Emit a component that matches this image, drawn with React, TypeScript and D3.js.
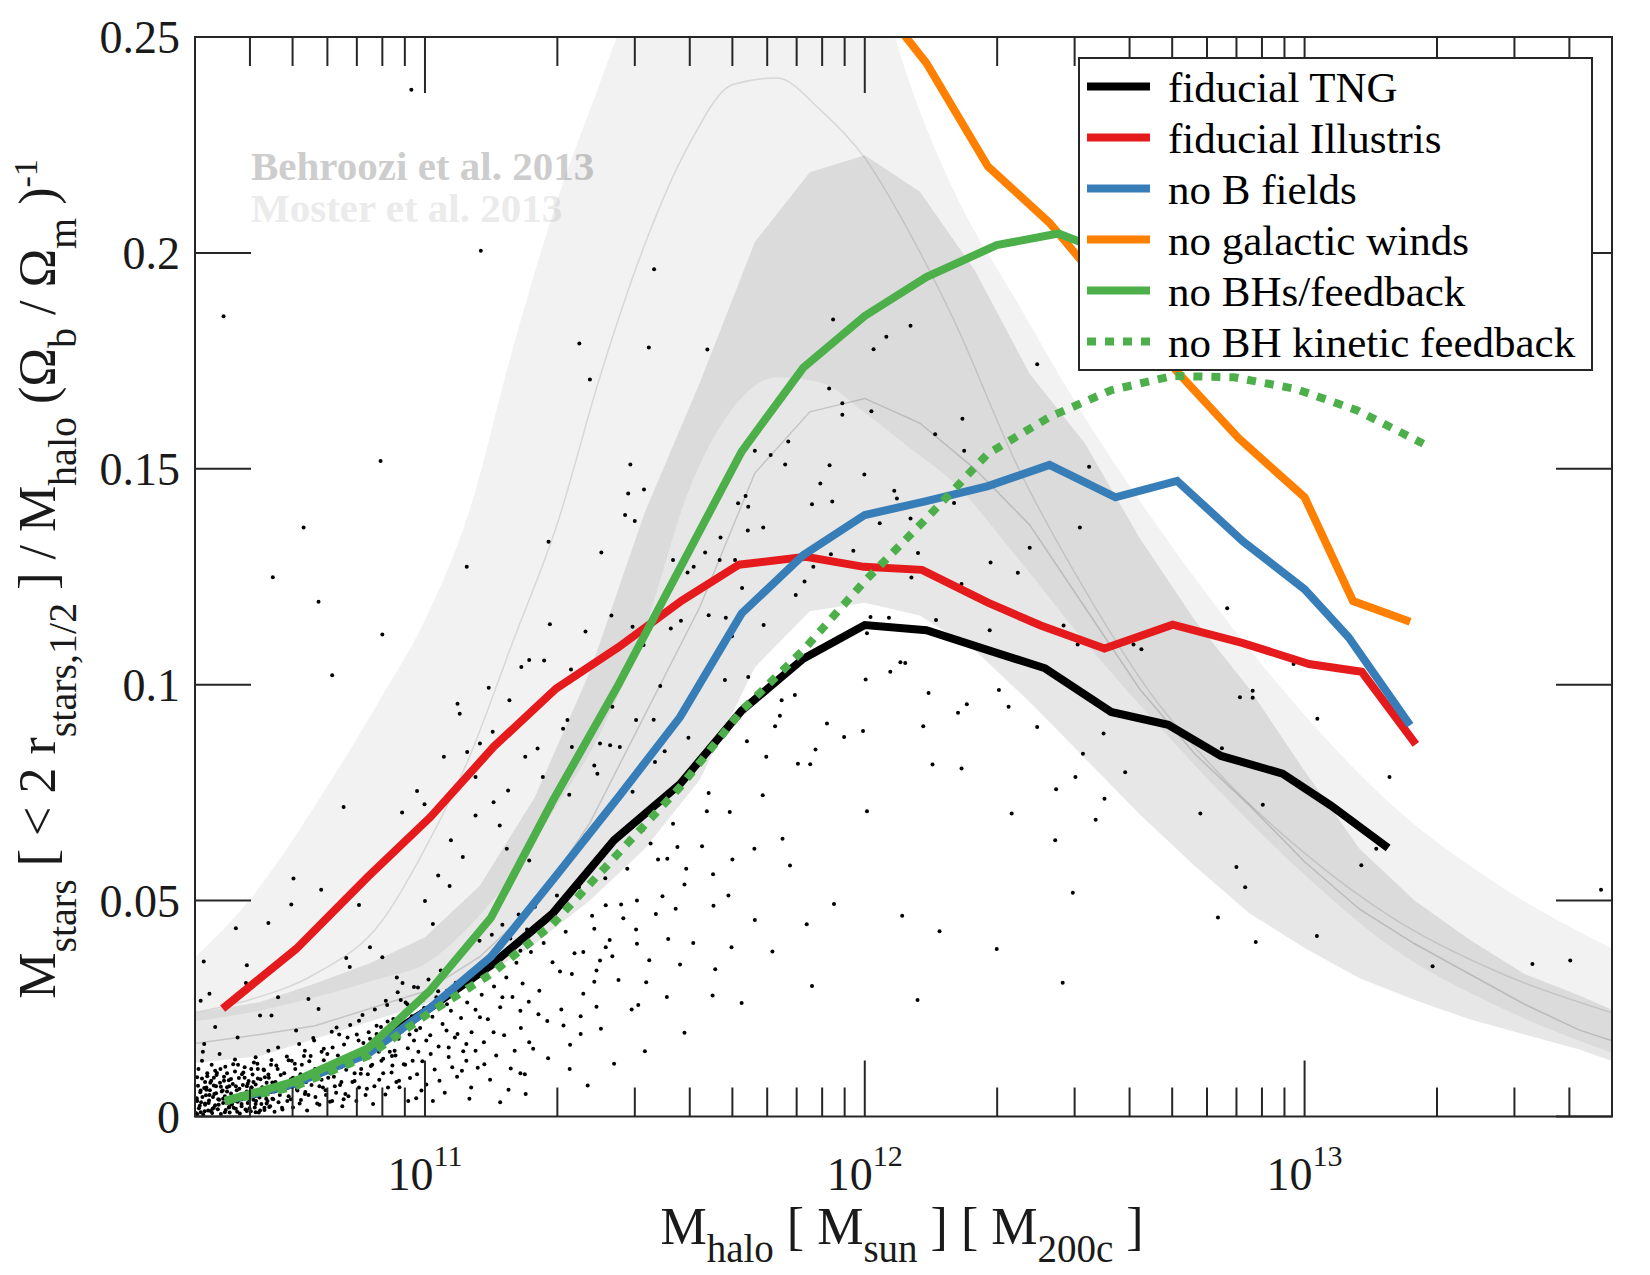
import * as d3 from "d3";

// simulation curves: [log10 M_halo, M_stars / M_halo / (Omega_b/Omega_m)]
const fiducialTNG: [number, number][] = [
  [10.545, 0.0035], [10.7, 0.0075], [10.86, 0.015], [11.01, 0.025], [11.15, 0.035],
  [11.29, 0.047], [11.43, 0.064], [11.58, 0.077], [11.72, 0.094], [11.86, 0.106],
  [12.0, 0.1138], [12.14, 0.1126], [12.28, 0.108], [12.41, 0.1038], [12.56, 0.0937],
  [12.69, 0.0907], [12.81, 0.0835], [12.95, 0.0794], [13.06, 0.072], [13.19, 0.0622],
];
const fiducialIllustris: [number, number][] = [
  [10.54, 0.025], [10.707, 0.0388], [10.87, 0.0555], [11.013, 0.0694], [11.156, 0.0856],
  [11.298, 0.0991], [11.44, 0.1087], [11.584, 0.1195], [11.714, 0.1278], [11.866, 0.1296],
  [11.998, 0.1273], [12.13, 0.1266], [12.28, 0.119], [12.4, 0.1137], [12.545, 0.1084],
  [12.7, 0.1139], [12.858, 0.1097], [13.01, 0.1048], [13.13, 0.103], [13.253, 0.0862],
];
const noBFields: [number, number][] = [
  [10.545, 0.0036], [10.7, 0.0075], [10.87, 0.0145], [11.01, 0.025], [11.15, 0.037],
  [11.3, 0.056], [11.44, 0.074], [11.58, 0.0925], [11.72, 0.1165], [11.86, 0.13],
  [12.0, 0.1393], [12.14, 0.1425], [12.28, 0.146], [12.42, 0.1509], [12.57, 0.1434],
  [12.71, 0.1472], [12.86, 0.1332], [13.0, 0.1221], [13.1, 0.111], [13.24, 0.0906],
];
const noGalacticWinds: [number, number][] = [
  [11.9, 0.29], [12.0, 0.262], [12.14, 0.244], [12.28, 0.22], [12.42, 0.207],
  [12.56, 0.19], [12.71, 0.1725], [12.85, 0.1571], [13.0, 0.1434], [13.11, 0.1194],
  [13.24, 0.1146],
];
const noBHFeedback: [number, number][] = [
  [10.545, 0.0036], [10.7, 0.008], [10.87, 0.0158], [11.01, 0.029], [11.15, 0.046],
  [11.29, 0.073], [11.44, 0.1], [11.58, 0.127], [11.72, 0.154], [11.86, 0.1734],
  [12.0, 0.1854], [12.14, 0.1944], [12.3, 0.2018], [12.44, 0.2045], [12.58, 0.199],
];
const noBHKinetic: [number, number][] = [
  [10.545, 0.0036], [10.7, 0.0068], [10.87, 0.014], [11.01, 0.024], [11.15, 0.033],
  [11.29, 0.0445], [11.44, 0.061], [11.58, 0.0763], [11.72, 0.094], [11.86, 0.108],
  [12.0, 0.124], [12.14, 0.1385], [12.28, 0.1535], [12.42, 0.162], [12.56, 0.1682],
  [12.7, 0.1715], [12.84, 0.1712], [12.98, 0.1685], [13.12, 0.1635], [13.27, 0.1558],
];

// Behroozi et al. 2013 band
const behrooziMass = [10.47, 10.625, 10.75, 10.875, 11.0, 11.125, 11.25, 11.375, 11.5, 11.625, 11.75, 11.875, 12.0, 12.125, 12.25, 12.375, 12.5, 12.625, 12.75, 12.875, 13.0, 13.125, 13.25, 13.375, 13.5, 13.625, 13.7];
const behrooziUpper = [0.0239, 0.0265, 0.0308, 0.0355, 0.0415, 0.0535, 0.074, 0.103, 0.14, 0.17, 0.2025, 0.2187, 0.2226, 0.2142, 0.196, 0.172, 0.156, 0.134, 0.115, 0.099, 0.08, 0.062, 0.05, 0.041, 0.033, 0.028, 0.0247];
const behrooziMid = [0.0168, 0.019, 0.021, 0.025, 0.029, 0.037, 0.049, 0.068, 0.093, 0.118, 0.149, 0.1632, 0.1663, 0.1606, 0.15, 0.137, 0.118, 0.099, 0.084, 0.072, 0.059, 0.048, 0.04, 0.033, 0.026, 0.02, 0.0175];
const behrooziLower = [0.0123, 0.014, 0.018, 0.022, 0.026, 0.032, 0.04, 0.05, 0.062, 0.078, 0.104, 0.117, 0.119, 0.116, 0.108, 0.096, 0.083, 0.07, 0.058, 0.047, 0.039, 0.032, 0.027, 0.0225, 0.019, 0.0155, 0.0128];

// Moster et al. 2013 band
const mosterMass = [10.47, 10.6, 10.75, 10.9, 11.0, 11.1, 11.2, 11.3, 11.4, 11.5, 11.6, 11.7, 11.8, 11.9, 12.0, 12.1, 12.2, 12.35, 12.5, 12.65, 12.8, 13.0, 13.2, 13.45, 13.7];
const mosterUpper = [0.0362, 0.05, 0.072, 0.097, 0.115, 0.14, 0.178, 0.212, 0.24, 0.268, 0.3, 0.32, 0.325, 0.315, 0.275, 0.24, 0.215, 0.188, 0.162, 0.139, 0.118, 0.093, 0.072, 0.053, 0.0388];
const mosterMid = [0.024, 0.027, 0.033, 0.045, 0.062, 0.083, 0.11, 0.137, 0.172, 0.202, 0.225, 0.239, 0.2405, 0.233, 0.222, 0.205, 0.185, 0.15, 0.122, 0.098, 0.08, 0.061, 0.046, 0.033, 0.024];
const mosterLower = [0.022, 0.024, 0.0276, 0.032, 0.0353, 0.044, 0.056, 0.072, 0.089, 0.113, 0.145, 0.164, 0.1712, 0.17, 0.163, 0.155, 0.147, 0.129, 0.11, 0.0925, 0.076, 0.056, 0.039, 0.025, 0.0147];

// individual galaxies of the fiducial TNG box
const galaxies: [number, number][] = [
  [10.758, 0.1192], [10.903, 0.1116], [10.789, 0.1022], [11.284, 0.114], [11.365, 0.1123], [11.424, 0.116], [11.472, 0.1134], [11.497, 0.1092], [11.535, 0.0997], [11.559, 0.113],
  [11.582, 0.1148], [11.645, 0.1161], [11.684, 0.1155], [11.77, 0.1138], [11.953, 0.0879], [11.914, 0.091], [11.888, 0.085], [11.876, 0.0816], [11.848, 0.0817], [11.841, 0.0976],
  [11.811, 0.0964], [11.807, 0.0928], [11.796, 0.0904], [11.776, 0.0833], [11.732, 0.0869], [11.735, 0.1018], [11.682, 0.1011], [11.698, 0.1112], [11.635, 0.1017], [11.645, 0.0749],
  [11.693, 0.0705], [11.749, 0.062], [11.768, 0.0744], [11.813, 0.0643], [11.868, 0.0445], [11.697, 0.0392], [11.654, 0.028], [11.485, 0.0258], [11.58, 0.0352], [11.553, 0.0411],
  [11.59, 0.0537], [11.655, 0.0561], [11.656, 0.0488], [11.699, 0.0595], [11.641, 0.0707], [11.594, 0.0574], [11.551, 0.0597], [11.54, 0.051], [11.525, 0.0469], [11.482, 0.05],
  [11.451, 0.0459], [11.446, 0.0491], [11.411, 0.0489], [11.385, 0.0435], [11.385, 0.0312], [11.39, 0.0254], [11.354, 0.0232], [11.354, 0.0191], [11.329, 0.011], [11.315, 0.0211],
  [11.278, 0.0221], [11.237, 0.0172], [11.229, 0.0052], [11.217, 0.01], [11.195, 0.0111], [11.171, 0.0033], [11.191, 0.0377], [11.217, 0.0245], [11.258, 0.0237], [11.307, 0.0336],
  [11.334, 0.033], [11.36, 0.0381], [11.398, 0.0361], [11.426, 0.0371], [11.482, 0.04], [11.503, 0.0311], [11.411, 0.0392], [11.237, 0.0593], [11.217, 0.0384], [11.186, 0.062],
  [11.17, 0.0674], [11.156, 0.0728], [11.115, 0.0697], [11.086, 0.0601], [11.059, 0.064], [11.056, 0.0534], [11.03, 0.0558], [11.018, 0.0446], [11.0, 0.0499], [10.982, 0.0754],
  [10.999, 0.0723], [10.948, 0.0704], [11.043, 0.0833], [11.074, 0.0956], [11.079, 0.0933], [11.096, 0.0844], [11.115, 0.0786], [11.125, 0.0864], [11.145, 0.0993], [11.154, 0.0891],
  [11.189, 0.0755], [11.192, 0.0964], [11.219, 0.1041], [11.237, 0.1057], [11.271, 0.1056], [11.228, 0.0833], [11.256, 0.0852], [11.268, 0.0786], [11.288, 0.0717], [11.314, 0.0898],
  [11.324, 0.0918], [11.332, 0.1035], [11.334, 0.0856], [11.328, 0.0745], [11.365, 0.0651], [11.385, 0.0813], [11.398, 0.0864], [11.421, 0.086], [11.443, 0.0856], [11.392, 0.0794],
  [11.426, 0.0949], [11.48, 0.0918], [11.52, 0.0919], [11.523, 0.0821], [11.545, 0.0846], [11.581, 0.0922], [11.599, 0.0877], [11.472, 0.0752], [11.495, 0.0663], [11.513, 0.0632],
  [11.564, 0.0678], [11.574, 0.0624], [10.497, 0.0359], [10.57, 0.0436], [10.644, 0.0448], [10.701, 0.0551], [10.696, 0.0491], [10.764, 0.0525], [10.815, 0.0717], [10.85, 0.049],
  [10.595, 0.035], [10.593, 0.0309], [10.51, 0.0284], [10.49, 0.0268], [10.523, 0.0207], [10.625, 0.0234], [10.651, 0.0234], [10.666, 0.0276], [10.735, 0.0272], [10.758, 0.0249],
  [10.821, 0.0367], [10.829, 0.0346], [10.875, 0.0392], [10.903, 0.0369], [10.936, 0.0322], [10.949, 0.0309], [10.911, 0.0268], [10.85, 0.0222], [10.799, 0.0206], [10.824, 0.0183],
  [10.89, 0.0191], [10.952, 0.0237], [10.972, 0.0214], [11.003, 0.0176], [11.018, 0.0036], [11.049, 0.0199], [11.074, 0.0191], [11.094, 0.0168], [11.115, 0.0152], [11.135, 0.0121],
  [11.156, 0.0195], [11.176, 0.0276], [11.125, 0.023], [11.084, 0.0106], [11.105, 0.0067], [11.062, 0.0114], [11.033, 0.0083], [10.992, 0.006], [10.962, 0.0036], [10.941, 0.0083],
  [10.916, 0.0067], [10.926, 0.0118], [10.87, 0.0098], [10.85, 0.0067], [10.819, 0.0052], [10.789, 0.0036], [10.768, 0.0067], [10.758, 0.0106], [10.717, 0.0098], [10.727, 0.0052],
  [10.687, 0.0036], [10.656, 0.006], [10.636, 0.0091], [10.605, 0.0067], [10.584, 0.0098], [10.564, 0.0121], [10.543, 0.0083], [10.523, 0.0106], [10.503, 0.0067], [10.482, 0.0091],
  [10.482, 0.0036], [10.513, 0.0013], [10.554, 0.0021], [10.595, 0.0013], [10.574, 0.0036], [10.615, 0.0029], [10.493, 0.0129], [10.533, 0.0145], [10.615, 0.0137], [10.666, 0.016],
  [10.697, 0.0129], [10.727, 0.0152], [10.778, 0.0145], [10.809, 0.0114], [10.748, 0.0176], [10.707, 0.0199], [10.574, 0.0183], [10.498, 0.0168], [10.87, 0.0152], [10.901, 0.0129],
  [10.931, 0.0152], [10.972, 0.0129], [10.982, 0.0098], [10.941, 0.0191], [11.013, 0.0145], [11.054, 0.016], [11.094, 0.0129],
  [10.49, 0.001], [10.5, 0.003], [10.51, 0.005], [10.52, 0.002], [10.53, 0.004], [10.49, 0.006], [10.5, 0.008], [10.52, 0.009], [10.54, 0.006], [10.55, 0.01],
  [10.56, 0.003], [10.57, 0.007], [10.58, 0.005], [10.59, 0.009], [10.6, 0.004], [10.61, 0.008], [10.62, 0.011], [10.63, 0.006], [10.64, 0.003], [10.65, 0.012],
  [10.66, 0.008], [10.67, 0.005], [10.68, 0.01], [10.69, 0.013], [10.7, 0.009], [10.71, 0.006], [10.72, 0.012], [10.73, 0.008], [10.74, 0.014], [10.75, 0.011],
  [10.76, 0.007], [10.77, 0.013], [10.78, 0.009], [10.79, 0.016], [10.8, 0.012], [10.81, 0.008], [10.83, 0.014], [10.84, 0.01], [10.86, 0.017], [10.88, 0.012],
  [10.89, 0.021], [10.92, 0.015], [10.94, 0.018], [10.96, 0.026], [10.98, 0.02], [11.0, 0.024], [11.03, 0.029], [11.05, 0.026], [11.07, 0.031], [10.48, 0.004],
  [10.485, 0.011], [10.495, 0.015], [10.505, 0.01], [10.515, 0.012], [10.525, 0.007], [10.535, 0.011], [10.545, 0.001], [10.555, 0.007], [10.565, 0.002], [10.575, 0.012],
  [10.585, 0.004], [10.595, 0.007], [10.605, 0.011], [10.615, 0.001], [10.625, 0.005], [10.635, 0.002], [10.645, 0.009], [10.655, 0.004], [10.665, 0.011], [10.675, 0.002],
  [10.685, 0.007], [10.695, 0.004], [10.705, 0.011], [10.715, 0.003], [10.725, 0.014], [10.735, 0.005], [10.745, 0.009], [10.755, 0.003], [10.765, 0.015], [10.775, 0.005],
  [10.785, 0.01], [10.795, 0.007], [10.805, 0.019], [10.815, 0.004], [10.825, 0.013], [10.835, 0.008], [10.845, 0.019], [10.855, 0.011], [10.865, 0.005], [10.875, 0.018],
  [10.885, 0.007], [10.895, 0.015], [10.905, 0.01], [10.915, 0.022], [10.925, 0.014], [10.935, 0.008], [10.945, 0.027], [10.955, 0.012], [10.965, 0.019], [10.975, 0.03],
  [10.985, 0.015], [10.995, 0.027],
  [10.482, 0.0005], [10.488, 0.0025], [10.494, 0.0045], [10.499, 0.0012], [10.503, 0.0062], [10.508, 0.0031], [10.512, 0.0078], [10.517, 0.0018], [10.521, 0.0052], [10.526, 0.0096],
  [10.531, 0.0027], [10.536, 0.0069], [10.541, 0.0041], [10.546, 0.0115], [10.55, 0.0058], [10.555, 0.0022], [10.559, 0.0087], [10.564, 0.0046], [10.568, 0.0132], [10.573, 0.0011],
  [10.578, 0.0064], [10.583, 0.0029], [10.587, 0.0102], [10.592, 0.0049], [10.597, 0.0076], [10.601, 0.0019], [10.606, 0.0057], [10.611, 0.0125], [10.616, 0.0036], [10.62, 0.0088],
  [10.625, 0.0014], [10.63, 0.0068], [10.634, 0.0107], [10.639, 0.0041], [10.644, 0.0152], [10.648, 0.0024], [10.653, 0.0079], [10.658, 0.0058], [10.662, 0.0118], [10.667, 0.0033],
  [10.672, 0.0096], [10.676, 0.0016], [10.681, 0.0072], [10.686, 0.0139], [10.69, 0.0047], [10.695, 0.0086], [10.7, 0.0021], [10.704, 0.0122], [10.709, 0.0063], [10.714, 0.0168],
  [10.718, 0.0038], [10.723, 0.0094], [10.728, 0.0057], [10.732, 0.0014], [10.737, 0.0128], [10.742, 0.0073], [10.746, 0.0182], [10.751, 0.0045], [10.756, 0.0103], [10.76, 0.0027],
  [10.765, 0.0085], [10.77, 0.0157], [10.774, 0.0061], [10.779, 0.0118], [10.784, 0.0034], [10.788, 0.0196], [10.793, 0.0092], [10.798, 0.0055], [10.802, 0.0141], [10.807, 0.0073],
  [10.812, 0.0024], [10.816, 0.0167], [10.821, 0.0108], [10.826, 0.0047], [10.83, 0.0212], [10.835, 0.0131], [10.84, 0.0082], [10.844, 0.0036], [10.849, 0.0176], [10.854, 0.0099],
  [10.858, 0.0235], [10.863, 0.0148], [10.868, 0.0064], [10.872, 0.0195], [10.877, 0.0117], [10.882, 0.0029], [10.886, 0.0248], [10.891, 0.0162], [10.896, 0.0085], [10.9, 0.0207],
  [10.905, 0.0134], [10.91, 0.0051], [10.914, 0.0258], [10.919, 0.0179], [10.924, 0.0102], [10.928, 0.0226], [10.933, 0.0141], [10.938, 0.0288], [10.942, 0.0068], [10.947, 0.0197],
  [10.952, 0.0121], [10.956, 0.0264], [10.961, 0.0158], [10.966, 0.0089], [10.97, 0.0232], [10.975, 0.0176], [10.98, 0.0042], [10.984, 0.0299], [10.989, 0.0205], [10.994, 0.0128],
  [10.998, 0.0251], [11.003, 0.0074], [11.008, 0.0317], [11.012, 0.0188], [11.017, 0.0231], [11.022, 0.0109], [11.026, 0.0276], [11.031, 0.0162], [11.036, 0.0338], [11.04, 0.0214],
  [11.045, 0.0055], [11.05, 0.0291], [11.054, 0.0138], [11.059, 0.0245], [11.064, 0.0362], [11.068, 0.0183], [11.073, 0.0092], [11.078, 0.0302], [11.082, 0.0228], [11.087, 0.0151],
  [11.092, 0.0386], [11.096, 0.0264], [11.101, 0.0041], [11.106, 0.0195], [11.11, 0.0319], [11.115, 0.0247], [11.12, 0.0113], [11.124, 0.0407], [11.129, 0.0282], [11.134, 0.0172],
  [11.138, 0.0346], [11.143, 0.0225], [11.148, 0.0085], [11.152, 0.0421], [11.157, 0.0301], [11.162, 0.0141], [11.166, 0.0366], [11.171, 0.0253], [11.176, 0.0444], [11.18, 0.0188],
  [11.185, 0.0322], [11.19, 0.0062], [11.194, 0.0412], [11.199, 0.0277], [11.204, 0.0152], [11.208, 0.0356], [11.213, 0.0468], [11.218, 0.0205], [11.222, 0.0308], [11.227, 0.0098],
  [11.232, 0.0433], [11.236, 0.0266], [11.241, 0.0381], [11.246, 0.0157], [11.25, 0.0486], [11.26, 0.0291], [11.27, 0.0402], [11.28, 0.0135], [11.29, 0.0357], [11.3, 0.0512],
  [11.31, 0.0248], [11.32, 0.0428], [11.33, 0.0166], [11.34, 0.0378], [11.35, 0.0531], [11.36, 0.0284], [11.37, 0.0072], [11.38, 0.0465], [11.39, 0.0338], [11.4, 0.0203],
  [11.41, 0.0552], [11.42, 0.0409], [11.43, 0.0122], [11.44, 0.0316], [11.46, 0.0574], [11.47, 0.0248], [11.48, 0.0433], [11.5, 0.0151], [11.51, 0.0362], [11.53, 0.0595],
  [11.55, 0.0277], [11.57, 0.0481], [11.59, 0.0194], [11.61, 0.0402], [11.63, 0.0626], [11.66, 0.0341], [11.69, 0.0512], [11.72, 0.0263], [11.75, 0.0455], [11.79, 0.0382],
  [11.83, 0.0581], [11.88, 0.0302], [11.93, 0.0492],
  [10.479, 0.0008], [10.481, 0.0042], [10.484, 0.0071], [10.486, 0.0019], [10.489, 0.0056], [10.491, 0.0033], [10.493, 0.0088], [10.496, 0.0004], [10.498, 0.0066], [10.5, 0.0027],
  [10.502, 0.0049], [10.505, 0.0093], [10.507, 0.0014], [10.509, 0.0037], [10.511, 0.0061], [10.514, 0.0083], [10.516, 0.0008], [10.518, 0.0045], [10.52, 0.0072], [10.523, 0.0026],
  [10.525, 0.0054], [10.527, 0.0101], [10.529, 0.0017], [10.532, 0.0039], [10.534, 0.0078], [10.536, 0.0006], [10.538, 0.0058], [10.541, 0.0031], [10.543, 0.0092], [10.545, 0.0047],
  [10.547, 0.0015], [10.55, 0.0068], [10.552, 0.0036], [10.554, 0.0084], [10.556, 0.0009], [10.559, 0.0053], [10.561, 0.0028], [10.563, 0.0075], [10.565, 0.0043], [10.568, 0.0104],
  [10.57, 0.0018], [10.572, 0.0061], [10.574, 0.0034], [10.577, 0.0089], [10.579, 0.0007], [10.581, 0.0051], [10.583, 0.0024], [10.586, 0.0073], [10.588, 0.0041], [10.59, 0.0114],
  [10.592, 0.0016], [10.595, 0.0058], [10.597, 0.0031], [10.599, 0.0082], [10.601, 0.0048], [10.604, 0.0012], [10.606, 0.0067], [10.608, 0.0097], [10.61, 0.0039], [10.613, 0.0021],
  [10.615, 0.0074], [10.617, 0.0053], [10.619, 0.0122], [10.622, 0.0009], [10.624, 0.0044], [10.626, 0.0086], [10.628, 0.0029], [10.631, 0.0062], [10.633, 0.0109], [10.635, 0.0015],
  [10.637, 0.0049], [10.64, 0.0078], [10.642, 0.0036], [10.644, 0.0097], [10.646, 0.0022], [10.649, 0.0058], [10.651, 0.0131], [10.653, 0.0041], [10.655, 0.0069], [10.658, 0.0011],
  [10.542, 0.1853], [10.899, 0.1518], [10.724, 0.1364], [10.654, 0.1249], [10.969, 0.2378],
  [11.127, 0.2005], [11.521, 0.1962], [11.351, 0.179], [11.375, 0.1707], [11.509, 0.1781], [11.642, 0.1776], [11.928, 0.1846], [11.919, 0.1686], [11.949, 0.1652], [11.949, 0.1625],
  [11.467, 0.151], [11.462, 0.1443], [11.498, 0.1452], [11.455, 0.1393], [11.477, 0.1379], [11.281, 0.1331], [11.401, 0.1306], [11.095, 0.1273], [11.75, 0.1542], [11.786, 0.1532],
  [11.826, 0.1563], [11.819, 0.151], [11.92, 0.1508], [11.899, 0.1466], [11.926, 0.1424], [11.88, 0.1418], [11.729, 0.1437], [11.712, 0.142], [11.735, 0.1412], [11.734, 0.1357],
  [11.769, 0.1364], [11.672, 0.1341], [11.637, 0.1306], [11.67, 0.1289], [11.705, 0.1289], [11.597, 0.126], [11.564, 0.1289], [11.721, 0.1224], [11.843, 0.1208], [11.863, 0.1239],
  [11.883, 0.1273], [11.923, 0.1302], [11.611, 0.1273],
  [12.104, 0.1831], [12.049, 0.1806], [12.02, 0.1777], [12.392, 0.1742], [12.015, 0.1633], [12.222, 0.1616], [12.16, 0.158], [12.226, 0.1542], [12.51, 0.1505], [11.999, 0.1487],
  [12.067, 0.1449], [12.073, 0.1431], [12.203, 0.1421], [12.034, 0.1374], [12.104, 0.1385], [12.489, 0.1364], [12.375, 0.1317], [11.974, 0.131], [12.121, 0.1305], [12.286, 0.1283],
  [12.348, 0.1259], [12.106, 0.1248], [12.22, 0.1233], [12.824, 0.1177], [12.013, 0.1157], [12.055, 0.1155], [12.162, 0.115], [12.284, 0.1126], [12.452, 0.1137], [12.484, 0.1093],
  [12.611, 0.1093], [12.629, 0.1082], [12.975, 0.1048], [12.005, 0.1119], [12.081, 0.1052], [12.092, 0.105], [12.058, 0.103], [12.002, 0.1012], [12.145, 0.0981], [12.305, 0.0988],
  [12.853, 0.0971], [12.882, 0.0986], [12.882, 0.097], [12.232, 0.0955], [12.212, 0.0935], [12.327, 0.0949], [13.029, 0.0921], [11.996, 0.0893], [12.133, 0.0904], [12.392, 0.0902],
  [12.543, 0.0887], [12.812, 0.0853], [12.496, 0.084], [12.154, 0.0815], [12.22, 0.0806], [12.592, 0.0797], [12.479, 0.0786], [12.435, 0.0758], [13.193, 0.0786], [12.545, 0.0736],
  [12.005, 0.0707], [12.334, 0.0702], [12.525, 0.0687], [12.763, 0.0702], [12.905, 0.0722], [12.433, 0.064], [12.845, 0.0578], [13.129, 0.0582], [13.163, 0.062], [12.473, 0.0518],
  [12.865, 0.0531], [13.674, 0.0525],
  [12.803, 0.0461], [13.028, 0.0418], [12.889, 0.0404], [13.291, 0.0348], [13.518, 0.0353], [13.604, 0.0361],
  [12.085, 0.0465], [12.17, 0.0429], [12.3, 0.0388], [12.12, 0.027], [12.45, 0.031],
];

const legendEntries = [
  { label: "fiducial TNG", color: "#000000", dash: "" },
  { label: "fiducial Illustris", color: "#e41a1c", dash: "" },
  { label: "no B fields", color: "#377eb8", dash: "" },
  { label: "no galactic winds", color: "#ff7f00", dash: "" },
  { label: "no BHs/feedback", color: "#4daf4a", dash: "" },
  { label: "no BH kinetic feedback", color: "#4daf4a", dash: "9 9" },
];
const seriesData = [fiducialTNG, fiducialIllustris, noBFields, noGalacticWinds, noBHFeedback, noBHKinetic];

const FONT = "'Liberation Serif', 'Times New Roman', Times, serif";
const AXIS = "#262626";

export default function App() {
  const x = d3.scaleLog().domain([3e10, 5e13]).range([195, 1612]);
  const y = d3.scaleLinear().domain([0, 0.25]).range([1116.5, 37]);
  const px = (m: number) => x(Math.pow(10, m));

  const simLine = d3
    .line<[number, number]>()
    .x((d) => px(d[0]))
    .y((d) => y(d[1]));

  const band = (mass: number[], lo: number[], hi: number[], curve: d3.CurveFactory) =>
    d3
      .area<number>()
      .x((m) => px(m))
      .y0((_, i) => y(lo[i]))
      .y1((_, i) => y(hi[i]))
      .curve(curve)(mass) as string;
  const midLine = (mass: number[], v: number[], curve: d3.CurveFactory) =>
    d3
      .line<number>()
      .x((m) => px(m))
      .y((_, i) => y(v[i]))
      .curve(curve)(mass) as string;

  const [x0, x1] = x.range();
  const [y0, y1] = y.range();

  const xTicks = x.ticks();
  const yTicks = y.ticks(5);
  const isDecade = (t: number) => Math.abs(Math.log10(t) - Math.round(Math.log10(t))) < 1e-6;

  const legX = 1079;
  const legY = 58;
  const rowH = 51;

  return (
    <div style={{ position: "absolute", left: 0, top: 0 }}>
      <svg width={1650} height={1275} style={{ display: "block", background: "#fff" }} fontFamily={FONT}>
        <defs>
          <clipPath id="plotClip">
            <rect x={x0} y={y1} width={x1 - x0} height={y0 - y1} />
          </clipPath>
        </defs>

        <text x={251} y={180} fontSize={41} fontWeight="bold" fill="#cdcdcd">
          Behroozi et al. 2013
        </text>
        <text x={251} y={221.5} fontSize={41} fontWeight="bold" fill="#ebebeb">
          Moster et al. 2013
        </text>

        <g clipPath="url(#plotClip)">
          <path d={band(mosterMass, mosterLower, mosterUpper, d3.curveMonotoneX)} fill="#000" fillOpacity={0.05} />
          <path d={band(behrooziMass, behrooziLower, behrooziUpper, d3.curveLinear)} fill="#000" fillOpacity={0.095} />
          <path d={midLine(mosterMass, mosterMid, d3.curveMonotoneX)} fill="none" stroke="#000" strokeOpacity={0.11} strokeWidth={1.5} />
          <path d={midLine(behrooziMass, behrooziMid, d3.curveLinear)} fill="none" stroke="#000" strokeOpacity={0.15} strokeWidth={1.5} />

          {galaxies.map((g, i) => (
            <circle key={i} cx={px(g[0])} cy={y(g[1])} r={2} fill="#000" />
          ))}

          {seriesData.map((s, i) => (
            <path
              key={i}
              d={simLine(s) as string}
              fill="none"
              stroke={legendEntries[i].color}
              strokeWidth={8}
              strokeDasharray={legendEntries[i].dash || undefined}
              strokeLinejoin="miter"
              strokeLinecap="butt"
            />
          ))}
        </g>

        {/* axes box and ticks */}
        <g stroke={AXIS} strokeWidth={2}>
          {xTicks.map((t, i) => {
            const len = isDecade(t) ? 56 : 29;
            const xx = x(t);
            return (
              <g key={i}>
                <line x1={xx} x2={xx} y1={y0} y2={y0 - len} />
                <line x1={xx} x2={xx} y1={y1} y2={y1 + len} />
              </g>
            );
          })}
          {yTicks.map((t, i) => (
            <g key={i}>
              <line x1={x0} x2={x0 + 56} y1={y(t)} y2={y(t)} />
              <line x1={x1} x2={x1 - 56} y1={y(t)} y2={y(t)} />
            </g>
          ))}
          <rect x={x0} y={y1} width={x1 - x0} height={y0 - y1} fill="none" />
        </g>

        {/* tick labels */}
        {yTicks.map((t, i) => (
          <text key={i} x={180} y={y(t) + 16} fontSize={46} textAnchor="end" fill="#1a1a1a">
            {String(+t.toFixed(2))}
          </text>
        ))}
        {xTicks.filter(isDecade).map((t, i) => (
          <text key={i} x={x(t)} y={1190} fontSize={46} textAnchor="middle" fill="#1a1a1a">
            10
            <tspan dy={-24} fontSize={30}>
              {Math.round(Math.log10(t))}
            </tspan>
          </text>
        ))}

        {/* axis labels */}
        <text x={902} y={1244} fontSize={52} textAnchor="middle" fill="#1a1a1a">
          M<tspan dy={18} fontSize={39}>halo</tspan>
          <tspan dy={-18}>{" [ M"}</tspan>
          <tspan dy={18} fontSize={39}>sun</tspan>
          <tspan dy={-18}>{" ] [ M"}</tspan>
          <tspan dy={18} fontSize={39}>200c</tspan>
          <tspan dy={-18}>{" ]"}</tspan>
        </text>
        <text transform="translate(55,579) rotate(-90)" fontSize={52} textAnchor="middle" fill="#1a1a1a">
          M<tspan dy={21} fontSize={40}>stars</tspan>
          <tspan dy={-21}>{" [ < 2 r"}</tspan>
          <tspan dy={21} fontSize={40}>stars,1/2</tspan>
          <tspan dy={-21}>{" ] / M"}</tspan>
          <tspan dy={21} fontSize={40}>halo</tspan>
          <tspan dy={-21}>{" (Ω"}</tspan>
          <tspan dy={21} fontSize={40}>b</tspan>
          <tspan dy={-21}>{" / Ω"}</tspan>
          <tspan dy={21} fontSize={40}>m</tspan>
          <tspan dy={-21}>{" )"}</tspan>
          <tspan dy={-18} fontSize={34}>-1</tspan>
        </text>

        {/* legend */}
        <g>
          <rect x={legX} y={legY} width={513} height={312} fill="#fff" stroke={AXIS} strokeWidth={2} />
          {legendEntries.map((e, i) => {
            const cy = legY + 28.6 + i * rowH;
            return (
              <g key={i}>
                <line
                  x1={legX + 8}
                  x2={legX + 71}
                  y1={cy}
                  y2={cy}
                  stroke={e.color}
                  strokeWidth={8}
                  strokeDasharray={e.dash || undefined}
                />
                <text x={legX + 89} y={cy + 15} fontSize={43} fill="#000">
                  {e.label}
                </text>
              </g>
            );
          })}
        </g>
      </svg>
    </div>
  );
}
